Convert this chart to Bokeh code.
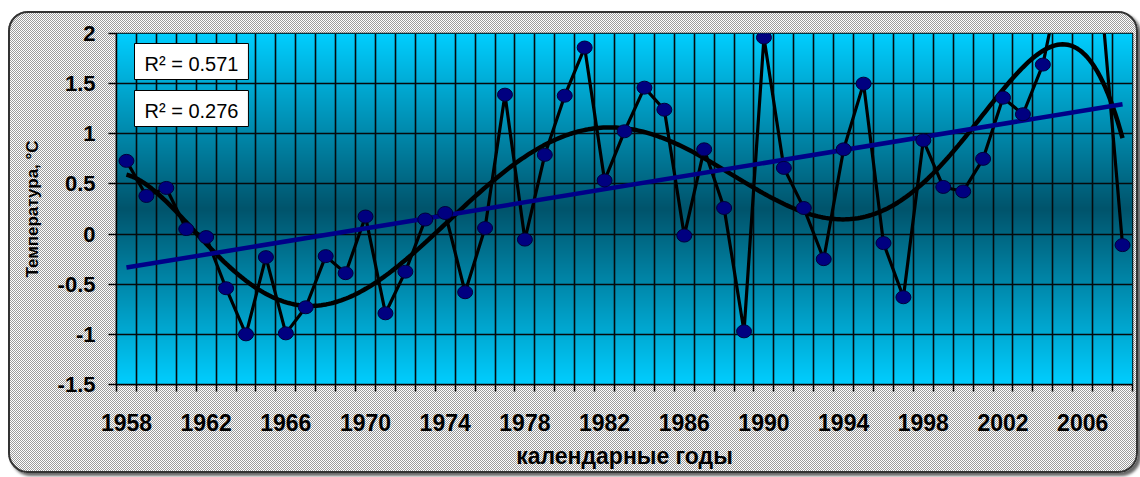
import numpy as np
from bokeh.plotting import figure
from bokeh.models import FixedTicker, Label, Range1d
from bokeh.embed import file_html
from bokeh.resources import INLINE

# ---------------- data ----------------
years = list(range(1958, 2009))
temps = [0.73, 0.38, 0.46, 0.05, -0.03, -0.54, -1.00, -0.23, -0.99, -0.73,
         -0.22, -0.39, 0.175, -0.79, -0.375, 0.145, 0.21, -0.58, 0.06, 1.39,
         -0.055, 0.79, 1.38, 1.86, 0.535, 1.025, 1.46, 1.24, -0.015, 0.845,
         0.26, -0.97, 1.96, 0.66, 0.26, -0.25, 0.845, 1.50, -0.09, -0.63,
         0.935, 0.47, 0.425, 0.75, 1.36, 1.195, 1.69, 2.65, 2.6, 2.2,
         -0.11]
year_labels = years[::4]
y_ticks = [-1.5, -1, -0.5, 0, 0.5, 1, 1.5, 2]
y_tick_labels = ["-1.5", "-1", "-0.5", "0", "0.5", "1", "1.5", "2"]
r2_labels = ["R\u00b2 = 0.571", "R\u00b2 = 0.276"]
x_title = "календарные годы"
y_title = "Температура, °С"

FONT = "Liberation Sans"

xmin, xmax = years[0] - 0.5, years[-1] + 0.5
ymin, ymax = y_ticks[0], y_ticks[-1]

p = figure(width=1130, height=462, output_backend="svg", toolbar_location=None,
           x_range=Range1d(xmin, xmax), y_range=Range1d(ymin, ymax),
           min_border_left=108, min_border_right=6, min_border_top=22,
           min_border_bottom=89)
p.border_fill_color = None
p.outline_line_color = "black"
p.outline_line_width = 1.5
p.styles = {
    "margin-left": "8px",
    "margin-top": "11px",
    "background-image": "repeating-conic-gradient(#9c9c9c 0% 25%, #ffffff 0% 50%)",
    "background-size": "2px 2px",
    "border-radius": "20px",
    "outline": "2px solid #333333",
    "outline-offset": "-2px",
    "box-shadow": "3px 3px 3px #666666",
}

# background gradient (light cyan edges, dark teal centre)
ny = 351
t = np.linspace(0.0, 1.0, ny)
d = np.abs(t - 0.5) * 2.0
light = np.array([0, 206, 255], dtype=float)
dark = np.array([0, 84, 108], dtype=float)
cols = dark[None, :] + (light - dark)[None, :] * d[:, None]
img = np.empty((ny, 1), dtype=np.uint32)
view = img.view(dtype=np.uint8).reshape((ny, 1, 4))
view[:, 0, 0] = cols[:, 0].astype(np.uint8)
view[:, 0, 1] = cols[:, 1].astype(np.uint8)
view[:, 0, 2] = cols[:, 2].astype(np.uint8)
view[:, 0, 3] = 255
p.image_rgba(image=[img], x=xmin, y=ymin, dw=xmax - xmin, dh=ymax - ymin,
             level="image")

# grids
boundaries = [y - 0.5 for y in years] + [years[-1] + 0.5]
p.xgrid.ticker = FixedTicker(ticks=boundaries)
p.ygrid.ticker = FixedTicker(ticks=y_ticks)
for g in (p.xgrid[0], p.ygrid[0]):
    g.grid_line_color = "#050a0c"
    g.grid_line_width = 1.6
    g.grid_line_alpha = 1.0

# axes
xa = p.xaxis[0]
xa.ticker = FixedTicker(ticks=year_labels, minor_ticks=boundaries)
xa.major_label_overrides = {y: str(y) for y in year_labels}
xa.major_tick_out = 0
xa.major_tick_in = 0
xa.minor_tick_out = 7
xa.minor_tick_in = 0
xa.minor_tick_line_color = "black"
xa.minor_tick_line_width = 1.5
xa.axis_line_color = "black"
xa.axis_line_width = 1.5
xa.major_label_standoff = 22
xa.major_label_text_font = FONT
xa.major_label_text_font_style = "bold"
xa.major_label_text_font_size = "23px"
xa.major_label_text_color = "black"
xa.axis_label = x_title
xa.axis_label_text_font = FONT
xa.axis_label_text_font_style = "bold"
xa.axis_label_text_font_size = "23px"
xa.axis_label_text_color = "black"
xa.axis_label_standoff = 9

ya = p.yaxis[0]
ya.ticker = FixedTicker(ticks=y_ticks)
ya.major_label_overrides = dict(zip(y_ticks, y_tick_labels))
ya.major_tick_out = 8
ya.major_tick_in = 0
ya.minor_tick_out = 0
ya.minor_tick_in = 0
ya.major_tick_line_color = "black"
ya.major_tick_line_width = 1.5
ya.axis_line_color = "black"
ya.axis_line_width = 1.5
ya.major_label_standoff = 13
ya.major_label_text_font = FONT
ya.major_label_text_font_style = "bold"
ya.major_label_text_font_size = "22px"
ya.major_label_text_color = "black"
ya.axis_label = y_title
ya.axis_label_text_font = FONT
ya.axis_label_text_font_style = "bold"
ya.axis_label_text_font_size = "17px"
ya.axis_label_text_color = "black"
ya.axis_label_standoff = 13

# trends
xs = np.array(years, dtype=float)
ys = np.array(temps, dtype=float)
xc = (xs - xs.mean()) / 25.0
lin = np.polyfit(xc, ys, 1)
poly = np.polyfit(xc, ys, 6)
xf = np.linspace(xs[0], xs[-1], 400)
xfc = (xf - xs.mean()) / 25.0

p.line(years, temps, line_color="black", line_width=3.2)
p.line(xf, np.polyval(poly, xfc), line_color="black", line_width=4.5)
p.line([xs[0], xs[-1]], np.polyval(lin, [xc[0], xc[-1]]), line_color="#000088",
       line_width=4.5)
p.ellipse(years, temps, width=15, height=13, width_units="screen",
          height_units="screen", fill_color="#000080", line_color="#00003a",
          line_width=1)

# R^2 boxes
for i, txt in enumerate(r2_labels):
    p.add_layout(Label(x=18, y=341 - 47 * i, x_units="screen", y_units="screen",
                       text=txt, text_font=FONT, text_font_size="20px",
                       text_color="black", text_align="left", text_baseline="top",
                       background_fill_color="white", border_line_color="black",
                       border_line_width=1, padding=(10, 10, 9, 5)))

open("out.html", "w").write(file_html(p, INLINE))
